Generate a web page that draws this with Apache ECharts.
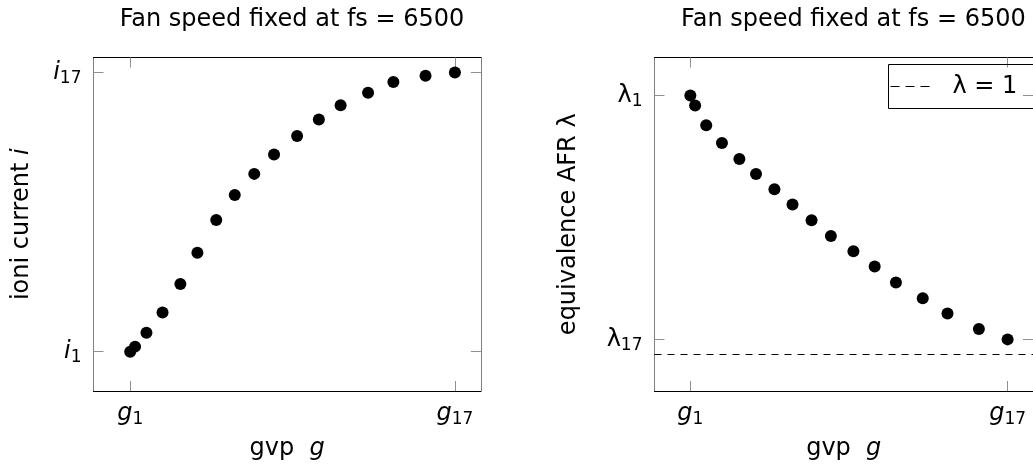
<!DOCTYPE html>
<html>
<head>
<meta charset="utf-8">
<script src="https://cdn.jsdelivr.net/npm/echarts@6/dist/echarts.min.js"></script>
<style>html,body{margin:0;padding:0;background:#fff;}#c{width:1033px;height:469px;}</style>
</head>
<body>
<div id="c"></div>
<script>
// ---- data (normalised: index 1 -> 0, index 17 -> 1) ----
const gvp = [0, 0.015, 0.05, 0.0996, 0.1545, 0.207, 0.265, 0.322, 0.382, 0.443, 0.514, 0.581, 0.648, 0.7325, 0.8105, 0.9095, 1];
const ioniCurrent = [0, 0.018, 0.068, 0.14, 0.242, 0.354, 0.472, 0.561, 0.637, 0.7065, 0.773, 0.832, 0.883, 0.928, 0.966, 0.989, 1];
const afr = [1, 0.959, 0.878, 0.805, 0.739, 0.678, 0.615, 0.553, 0.488, 0.424, 0.361, 0.299, 0.233, 0.169, 0.106, 0.043, 0];
const lambdaOneLevel = -0.062;

const tickValues = [0, 1];
const xTickBase = 'g', xTickSubs = ['1', '17'];
const iTickBase = 'i', iTickSubs = ['1', '17'];
const lTickBase = 'λ', lTickSubs = ['17', '1'];

const titleText = 'Fan speed fixed at fs = 6500';
const xName = 'gvp  {it|g}';
const yNameLeft = 'ioni current {it|i}';
const yNameRight = 'equivalence AFR λ';
const legendName = 'λ = 1';

// ---- layout ----
const FONT = 'DejaVu Sans';
const xRange = [-0.113, 1.08];
const yRangeLeft = [-0.141, 1.054];
const yRangeRight = [-0.2116, 1.1555];
const gridTop = 57.5, gridH = 333.5, gridW = 387.4;
const grids = [{left: 93.5, top: gridTop, width: gridW, height: gridH},
               {left: 654.5, top: gridTop, width: gridW, height: gridH}];

const black = '#000', grey = '#808080', tickGrey = '#909090';

function pairs(xs, ys) { return xs.map((x, i) => [x, ys[i]]); }

function richLabel(base, subs, italicBase) {
  return {
    formatter: v => '{b|' + base + '}{s|' + subs[tickValues.indexOf(v)] + '}',
    rich: {
      b: {fontFamily: FONT, fontSize: 24, fontStyle: italicBase ? 'italic' : 'normal', color: '#000'},
      s: {fontFamily: FONT, fontSize: 17, color: '#000', padding: [12, 0, 0, 0]}
    }
  };
}

const nameRich = {it: {fontFamily: FONT, fontSize: 24, fontStyle: 'italic', color: '#000'}};

function xAxes(gi) {
  return [
    {type: 'value', gridIndex: gi, position: 'bottom', min: xRange[0], max: xRange[1],
     axisLine: {show: true, onZero: false, lineStyle: {color: black, width: 1}},
     axisTick: {show: true, inside: true, length: 10, customValues: tickValues, lineStyle: {color: tickGrey}},
     axisLabel: Object.assign({show: true, margin: 8, customValues: tickValues}, richLabel(xTickBase, xTickSubs, true)),
     splitLine: {show: false},
     name: xName, nameLocation: 'middle', nameGap: 46,
     nameTextStyle: {fontFamily: FONT, fontSize: 24, color: '#000', rich: nameRich}},
    {type: 'value', gridIndex: gi, position: 'top', min: xRange[0], max: xRange[1],
     axisLine: {show: true, onZero: false, lineStyle: {color: black, width: 1}},
     axisTick: {show: true, inside: true, length: 10, customValues: tickValues, lineStyle: {color: tickGrey}},
     axisLabel: {show: false}, splitLine: {show: false}}
  ];
}

function yAxes(gi, range, base, subs, italic, name, gap) {
  return [
    {type: 'value', gridIndex: gi, position: 'left', min: range[0], max: range[1],
     axisLine: {show: true, onZero: false, lineStyle: {color: grey, width: 1}},
     axisTick: {show: true, inside: true, length: 10, customValues: tickValues, lineStyle: {color: tickGrey}},
     axisLabel: Object.assign({show: true, margin: 12, customValues: tickValues}, richLabel(base, subs, italic)),
     splitLine: {show: false},
     name: name, nameLocation: 'middle', nameGap: gap, nameRotate: 90,
     nameTextStyle: {fontFamily: FONT, fontSize: 24, color: '#000', rich: nameRich}},
    {type: 'value', gridIndex: gi, position: 'right', min: range[0], max: range[1],
     axisLine: {show: true, onZero: false, lineStyle: {color: grey, width: 1}},
     axisTick: {show: true, inside: true, length: 10, customValues: tickValues, lineStyle: {color: tickGrey}},
     axisLabel: {show: false}, splitLine: {show: false}}
  ];
}

const chart = echarts.init(document.getElementById('c'), null, {renderer: 'canvas'});
chart.setOption({
  animation: false,
  backgroundColor: '#fff',
  title: [
    {text: titleText, left: 287, top: 3, textAlign: 'center',
     textStyle: {fontFamily: FONT, fontSize: 24, fontWeight: 'normal', color: '#000'}},
    {text: titleText, left: 848.4, top: 3, textAlign: 'center',
     textStyle: {fontFamily: FONT, fontSize: 24, fontWeight: 'normal', color: '#000'}}
  ],
  grid: grids,
  xAxis: xAxes(0).concat(xAxes(1)),
  yAxis: yAxes(0, yRangeLeft, iTickBase, iTickSubs, true, yNameLeft, 60)
          .concat(yAxes(1, yRangeRight, lTickBase, lTickSubs, false, yNameRight, 74)),
  legend: {
    data: [{name: legendName, icon: 'path://M0,0h9v1.2h-9z M15,0h9v1.2h-9z M30,0h9v1.2h-9z'}],
    left: 888.5, top: 64.5,
    borderColor: '#000', borderWidth: 1, borderRadius: 0,
    padding: [10, 40, 10, 2], itemWidth: 39, itemHeight: 1.2,
    itemStyle: {color: '#000', opacity: 1},
    textStyle: {fontFamily: FONT, fontSize: 24, color: '#000', padding: [0, 0, 0, 18]}
  },
  series: [
    {type: 'scatter', xAxisIndex: 0, yAxisIndex: 0, data: pairs(gvp, ioniCurrent),
     symbol: 'circle', symbolSize: 12, itemStyle: {color: '#000', opacity: 1}},
    {type: 'scatter', xAxisIndex: 2, yAxisIndex: 2, data: pairs(gvp, afr),
     symbol: 'circle', symbolSize: 12, itemStyle: {color: '#000', opacity: 1}},
    {type: 'line', name: legendName, xAxisIndex: 2, yAxisIndex: 2,
     data: [[xRange[0], lambdaOneLevel], [xRange[1], lambdaOneLevel]],
     symbol: 'none', lineStyle: {color: '#000', width: 1, type: [7, 6]},
     itemStyle: {color: '#000'}}
  ]
});
</script>
</body>
</html>
